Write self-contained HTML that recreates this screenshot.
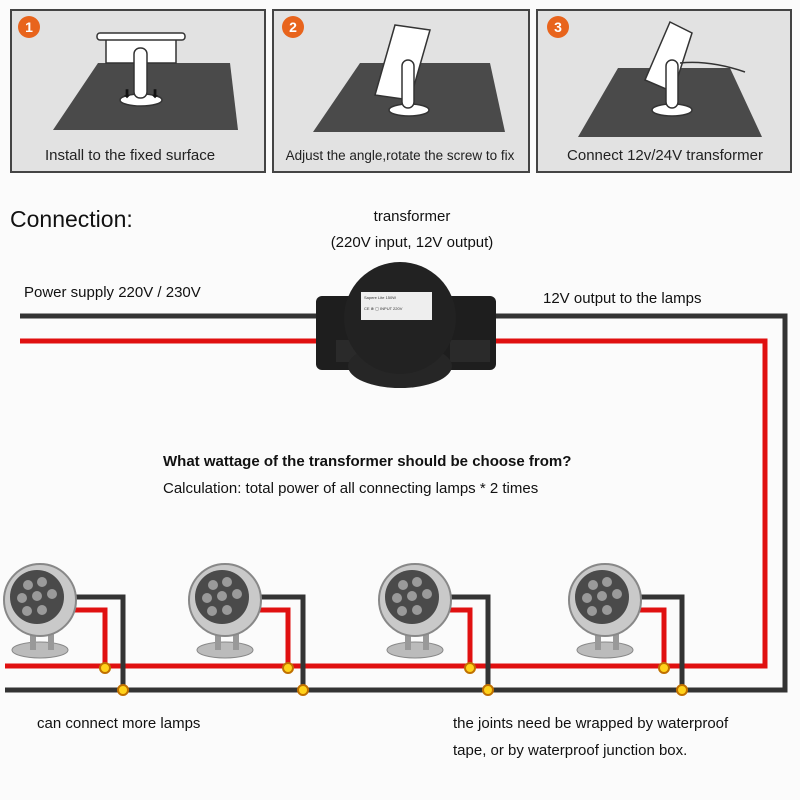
<!DOCTYPE html>
<html><head><meta charset="utf-8"><style>
body{margin:0;background:#fff;}
svg{display:block;font-family:"Liberation Sans",sans-serif;}
</style></head><body>
<svg width="800" height="800" viewBox="0 0 800 800">
<rect width="800" height="800" fill="#fbfbfb"/>
<g stroke="#444" stroke-width="2" fill="#e2e2e2">
<rect x="11" y="10" width="254" height="162"/>
<rect x="273" y="10" width="256" height="162"/>
<rect x="537" y="10" width="254" height="162"/>
</g>
<g fill="#4a4a4a">
<polygon points="98,63 230,63 238,130 53,130"/>
<polygon points="360,63 490,63 505,132 313,132"/>
<polygon points="618,68 730,68 762,137 578,137"/>
</g>
<g fill="#fff" stroke="#333" stroke-width="1.5">
<rect x="106" y="38" width="70" height="25"/>
<rect x="97" y="33" width="88" height="7" rx="3"/>
<ellipse cx="141" cy="100" rx="21" ry="6"/>
<rect x="134" y="48" width="13" height="50" rx="6"/>
</g>
<text x="122" y="98" font-size="12" fill="#111">⬇</text><text x="150" y="98" font-size="12" fill="#111">⬇</text>
<g fill="#fff" stroke="#333" stroke-width="1.5">
<polygon points="395,25 430,30 410,100 375,95"/>
<ellipse cx="409" cy="110" rx="20" ry="6"/>
<rect x="402" y="60" width="12" height="48" rx="6"/>
</g>
<g fill="#fff" stroke="#333" stroke-width="1.5">
<polygon points="670,22 692,33 673,92 645,80"/>
<ellipse cx="672" cy="110" rx="20" ry="6"/>
<rect x="666" y="60" width="12" height="48" rx="6"/>
<path d="M680 63 Q710 60 745 72" fill="none"/>
</g>
<g fill="#e8641c">
<circle cx="29" cy="27" r="11"/><circle cx="293" cy="27" r="11"/><circle cx="558" cy="27" r="11"/>
</g>
<g fill="#fff" font-weight="bold" font-size="14" text-anchor="middle">
<text x="29" y="32">1</text><text x="293" y="32">2</text><text x="558" y="32">3</text>
</g>
<g font-size="15" fill="#222" text-anchor="middle">
<text x="130" y="160">Install to the fixed surface</text>
<text x="400" y="160" font-size="13.5">Adjust the angle,rotate the screw to fix</text>
<text x="665" y="160">Connect 12v/24V transformer</text>
</g>
<text x="10" y="227" font-size="23" fill="#111">Connection:</text>
<g font-size="15" fill="#111">
<text x="412" y="221" text-anchor="middle">transformer</text>
<text x="412" y="247" text-anchor="middle">(220V input, 12V output)</text>
<text x="24" y="297">Power supply 220V / 230V</text>
<text x="543" y="303">12V output to the lamps</text>
<text x="163" y="466" font-weight="bold">What wattage of the transformer should be choose from?</text>
<text x="163" y="493">Calculation: total power of all connecting lamps * 2 times</text>
<text x="37" y="728">can connect more lamps</text>
<text x="453" y="728">the joints need be wrapped by waterproof</text>
<text x="453" y="755">tape, or by waterproof junction box.</text>
</g>
<g fill="none" stroke-width="5">
<path d="M20 316 H318" stroke="#333"/>
<path d="M20 341 H318" stroke="#e01010"/>
<path d="M493 316 H785 V690 H5" stroke="#333"/>
<path d="M493 341 H765 V666 H5" stroke="#e01010"/>
<path d="M70 597 H123 V690 M255 597 H303 V690 M440 597 H488 V690 M632 597 H682 V690" stroke="#333"/>
<path d="M70 610 H105 V666 M255 610 H288 V666 M440 610 H470 V666 M632 610 H664 V666" stroke="#e01010"/>
</g>
<g fill="#ffd21a" stroke="#c07000" stroke-width="2">
<circle cx="105" cy="668" r="5"/><circle cx="123" cy="690" r="5"/>
<circle cx="288" cy="668" r="5"/><circle cx="303" cy="690" r="5"/>
<circle cx="470" cy="668" r="5"/><circle cx="488" cy="690" r="5"/>
<circle cx="664" cy="668" r="5"/><circle cx="682" cy="690" r="5"/>
</g>
<g>
<rect x="316" y="296" width="180" height="74" rx="6" fill="#1e1e1e"/>
<rect x="336" y="340" width="40" height="22" fill="#2a2a2a"/>
<rect x="450" y="340" width="40" height="22" fill="#2a2a2a"/>
<ellipse cx="400" cy="366" rx="52" ry="22" fill="#262626"/>
<circle cx="400" cy="318" r="56" fill="#222"/>
<rect x="361" y="292" width="71" height="28" fill="#eee"/>
<text x="364" y="299" font-size="4" fill="#333">Sapere Lite 150W</text>
<text x="364" y="310" font-size="4" fill="#333">CE ⊗ ▢  INPUT 220V</text>
</g>
<g id="lamps">
<g transform="translate(40,605)">
<ellipse cx="0" cy="45" rx="28" ry="8" fill="#bbb" stroke="#888"/>
<rect x="-10" y="20" width="6" height="25" fill="#999"/><rect x="8" y="20" width="6" height="25" fill="#999"/>
<circle cx="0" cy="-5" r="36" fill="#c9c9c9" stroke="#888" stroke-width="2"/>
<circle cx="-3" cy="-8" r="27" fill="#4a4a4a"/>
<g fill="#9a9a9a"><circle cx="-12" cy="-20" r="5"/><circle cx="2" cy="-23" r="5"/><circle cx="-18" cy="-7" r="5"/><circle cx="-3" cy="-9" r="5"/><circle cx="12" cy="-11" r="5"/><circle cx="-13" cy="6" r="5"/><circle cx="2" cy="5" r="5"/></g>
</g>
</g>
<use href="#lamps" x="185" y="0"/>
<use href="#lamps" x="375" y="0"/>
<use href="#lamps" x="565" y="0"/>
</svg>
</body></html>
